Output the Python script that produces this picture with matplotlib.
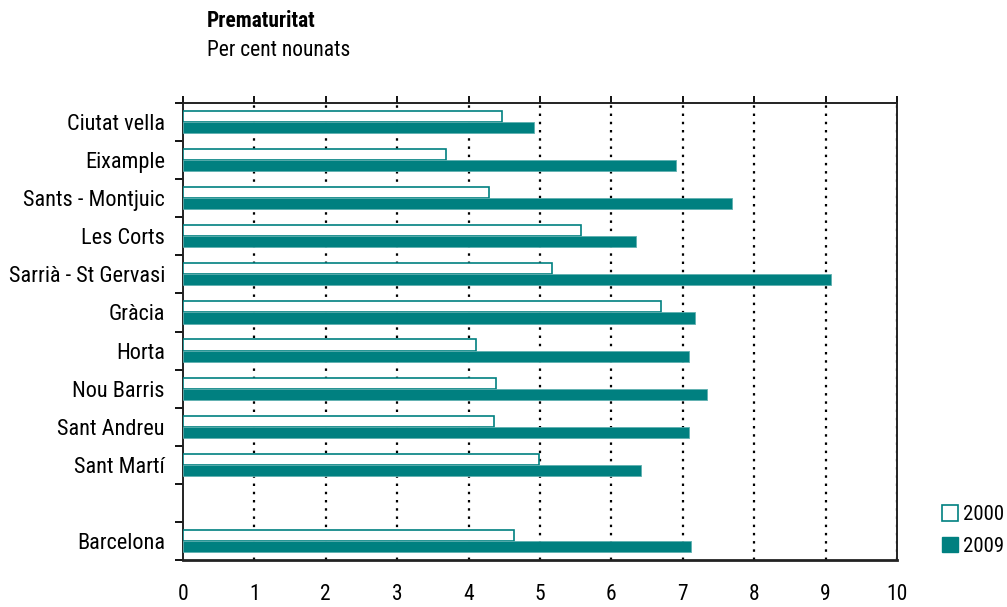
import matplotlib
matplotlib.use("Agg")
import matplotlib.pyplot as plt
import numpy as np
from matplotlib.patches import Patch

plt.rcParams['font.family'] = ['Roboto Condensed', 'Liberation Sans', 'DejaVu Sans']

categories = ["Ciutat vella", "Eixample", "Sants - Montjuic", "Les Corts",
              "Sarrià - St Gervasi", "Gràcia", "Horta", "Nou Barris",
              "Sant Andreu", "Sant Martí", "", "Barcelona"]
v2000 = [4.47, 3.69, 4.29, 5.57, 5.17, 6.70, 4.10, 4.38, 4.36, 4.99, np.nan, 4.64]
v2009 = [4.91, 6.90, 7.69, 6.35, 9.07, 7.17, 7.09, 7.34, 7.09, 6.41, np.nan, 7.12]
xticks = [0, 1, 2, 3, 4, 5, 6, 7, 8, 9, 10]

TEAL = "#008080"
W, H = 1007, 607
fig = plt.figure(figsize=(W / 100, H / 100), dpi=100)
ax = fig.add_axes([183 / W, 1 - 560 / H, (897 - 183) / W, (560 - 103) / H])

y = np.arange(len(categories))
h = 0.29
ax.barh(y - h / 2, v2000, height=h, color="white", edgecolor=TEAL, linewidth=1.2, zorder=3)
ax.barh(y + h / 2, v2009, height=h, color=TEAL, edgecolor="#5fb0b0", linewidth=0.6, zorder=3)

ax.set_xlim(0, 10)
ax.set_ylim(len(categories) - 0.5, -0.5)

for xv in xticks[1:]:
    ax.axvline(xv, color="black", linestyle=(0, (1.1, 2.6)), linewidth=1.6, zorder=1)

ax.set_xticks(xticks)
ax.set_xticklabels([str(v) for v in xticks], fontsize=15.5)
ax.tick_params(axis='x', top=True, bottom=False, labeltop=False, labelbottom=True,
               direction='out', length=5, width=1.3, pad=12)

ax.set_yticks(y)
ax.set_yticklabels(categories, fontsize=16)
ax.tick_params(axis='y', which='major', length=0, pad=13)
ax.set_yticks(np.arange(-0.5, len(categories), 1.0), minor=True)
ax.tick_params(axis='y', which='minor', direction='out', length=5.5, width=1.3)

for s in ['left', 'bottom', 'top', 'right']:
    ax.spines[s].set_linewidth(1.4)
    ax.spines[s].set_color("#222222")
ax.spines['bottom'].set_linewidth(2)

fig.text(207 / W, 1 - 27 / H, "Prematuritat", fontsize=15.5, fontweight='bold', va='baseline', ha='left')
fig.text(207 / W, 1 - 56 / H, "Per cent nounats", fontsize=15.5, va='baseline', ha='left')

handles = [Patch(facecolor="white", edgecolor=TEAL, linewidth=1.2, label="2000"),
           Patch(facecolor=TEAL, edgecolor=TEAL, label="2009")]
fig.legend(handles=handles, loc='upper left', bbox_to_anchor=(936 / W, 1 - 499 / H),
           frameon=False, fontsize=15, handlelength=0.75, handleheight=0.75,
           handletextpad=0.25, labelspacing=0.6, borderaxespad=0, borderpad=0.3)

fig.savefig("out.png", dpi=100)
